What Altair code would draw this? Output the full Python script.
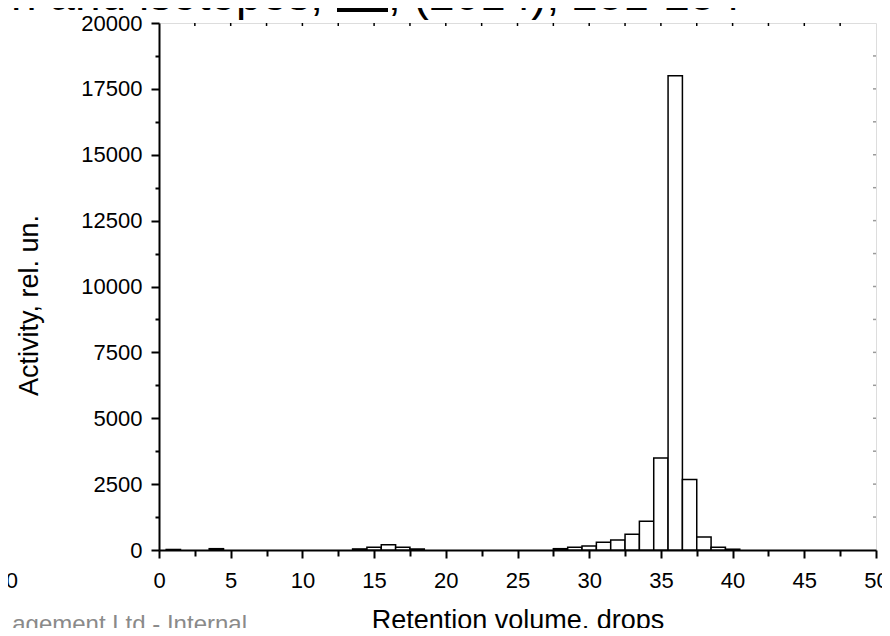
import altair as alt
import pandas as pd

# Histogram data (bin centres and activity)
centers = [1, 4, 14, 15, 16, 17, 18, 28, 29, 30, 31, 32, 33, 34, 35, 36, 37, 38, 39, 40]
values = [20, 50, 40, 100, 200, 100, 40, 50, 100, 150, 290, 380, 595, 1090, 3490, 18000, 2680, 490, 100, 30]

x_major = [0, 5, 10, 15, 20, 25, 30, 35, 40, 45, 50]
x_minor = [2.5, 7.5, 12.5, 17.5, 22.5, 27.5, 32.5, 37.5, 42.5, 47.5]
x_top = [i * 2.5 for i in range(1, 20)]
y_major = [0, 2500, 5000, 7500, 10000, 12500, 15000, 17500, 20000]
y_minor = [1250, 3750, 6250, 8750, 11250, 13750, 16250, 18750]
y_right = [i * 1250 for i in range(1, 16)]

FONT = "Liberation Sans"
W, H = 717, 527

df = pd.DataFrame({"c": centers, "v": values})
df["x0"] = df["c"] - 0.5
df["x1"] = df["c"] + 0.5
df["base"] = 0

xs = alt.Scale(domain=[0, 50], nice=False, zero=False)
ys = alt.Scale(domain=[0, 20000], nice=False)

base = alt.Chart(df)

bars = base.mark_bar(fill="white", stroke="black", strokeWidth=1.5).encode(
    x=alt.X("x0:Q", scale=xs, axis=alt.Axis(
        orient="bottom",
        values=x_major, tickSize=8, tickWidth=2, tickColor="black",
        domain=True, domainWidth=2, domainColor="black", grid=False,
        labelFontSize=22, labelFont=FONT, labelColor="black", labelPadding=12,
        labelFlush=False, labelOverlap=False, format="d",
        title="Retention volume, drops", titleFont=FONT, titleFontSize=27,
        titleFontWeight="normal", titleColor="black",
        titleX=W / 2, titleY=78, titleBaseline="alphabetic", titleAlign="center")),
    x2="x1:Q",
    y=alt.Y("v:Q", scale=ys, axis=alt.Axis(
        orient="left",
        values=y_major, tickSize=8, tickWidth=2, tickColor="black",
        domain=True, domainWidth=2, domainColor="black", grid=False,
        labelFontSize=22, labelFont=FONT, labelColor="black", labelPadding=9,
        labelFlush=False, labelOverlap=False, format="d",
        title="Activity, rel. un.", titleFont=FONT, titleFontSize=27,
        titleFontWeight="normal", titleColor="black",
        titleX=-130, titleY=282, titleAngle=270, titleBaseline="middle",
        titleAlign="center")),
    y2="base:Q",
)

minor = base.mark_point(opacity=0).encode(
    x=alt.X("x0:Q", scale=xs, axis=alt.Axis(
        orient="bottom",
        values=x_minor, tickSize=6, tickWidth=2, tickColor="black",
        domain=False, labels=False, grid=False, title="")),
    y=alt.Y("v:Q", scale=ys, axis=alt.Axis(
        orient="left",
        values=y_minor, tickSize=4, tickWidth=2, tickColor="black",
        domain=False, labels=False, grid=False, title="")),
)

# inward ticks on top and right frame edges
top_ticks = alt.Chart(pd.DataFrame({"t": x_top})).mark_rule(
    color="black", strokeWidth=1.5
).encode(x=alt.X("t:Q", scale=xs, axis=None), y=alt.value(0), y2=alt.value(3))

right_ticks = alt.Chart(pd.DataFrame({"t": y_right})).mark_rule(
    color="#9a9a9a", strokeWidth=1.5
).encode(y=alt.Y("t:Q", scale=ys, axis=None), x=alt.value(W), x2=alt.value(W - 3))

# Slide fragments around the chart
t1 = alt.Chart(pd.DataFrame({"t": ["n and isotopes,"]})).mark_text(
    font=FONT, fontSize=46, align="right", baseline="alphabetic", color="black"
).encode(x=alt.value(164), y=alt.value(-13), text="t:N")
t2 = alt.Chart(pd.DataFrame({"t": ["50"]})).mark_text(
    font=FONT, fontSize=46, align="left", baseline="alphabetic", color="black"
).encode(x=alt.value(178), y=alt.value(-13), text="t:N")
t3 = alt.Chart(pd.DataFrame({"t": [", (2014), 251-254"]})).mark_text(
    font=FONT, fontSize=46, align="left", baseline="alphabetic", color="black"
).encode(x=alt.value(229), y=alt.value(-13), text="t:N")
underline = alt.Chart(pd.DataFrame({"a": [0]})).mark_rule(
    color="black", strokeWidth=4
).encode(x=alt.value(178), x2=alt.value(229), y=alt.value(-13))

left20 = alt.Chart(pd.DataFrame({"t": ["20"]})).mark_text(
    font=FONT, fontSize=22, align="right", baseline="alphabetic", color="black"
).encode(x=alt.value(-141), y=alt.value(565), text="t:N")

footer = alt.Chart(pd.DataFrame({"t": ["agement Ltd - Internal"]})).mark_text(
    font=FONT, fontSize=24, align="right", baseline="alphabetic", color="#8a8a8a"
).encode(x=alt.value(88), y=alt.value(609), text="t:N")

chart = alt.layer(
    bars, minor, top_ticks, right_ticks, t1, t2, t3, underline, left20, footer
).resolve_axis(
    x="independent", y="independent"
).properties(
    width=W, height=H,
    autosize=alt.AutoSizeParams(type="none"),
    padding={"left": 151, "top": 15, "right": 6, "bottom": 78},
).configure_view(stroke="black", strokeWidth=2).configure(background="white")

chart.save("out.html", embed_options={"renderer": "svg", "actions": False})
